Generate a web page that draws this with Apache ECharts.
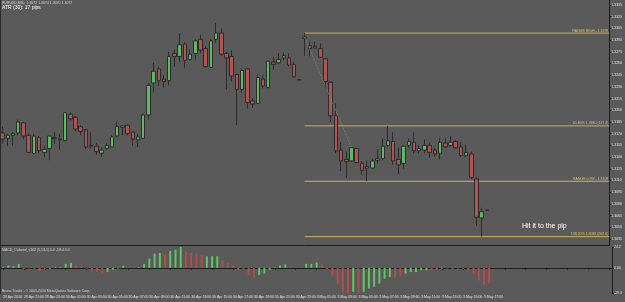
<!DOCTYPE html>
<html>
<head>
<meta charset="utf-8">
<script src="https://cdn.jsdelivr.net/npm/echarts@6/dist/echarts.min.js"></script>
<style>
html, body { margin: 0; padding: 0; background: #5a5a5a; }
#chart { width: 625px; height: 302px; }
</style>
</head>
<body>
<div id="chart"></div>
<script>
// EURUSD M30, 29 Apr - 3 May 2010. candles: [open, close, low, high]
var candles = [
  [1.3171, 1.3163, 1.3157, 1.3179], [1.3164, 1.3168, 1.3154, 1.3170], [1.3168, 1.3170, 1.3155, 1.3172],
  [1.3171, 1.3185, 1.3168, 1.3188], [1.3184, 1.3167, 1.3163, 1.3185], [1.3168, 1.3146, 1.3145, 1.3170],
  [1.3145, 1.3167, 1.3144, 1.3170], [1.3165, 1.3148, 1.3145, 1.3167], [1.3146, 1.3150, 1.3140, 1.3154],
  [1.3151, 1.3167, 1.3136, 1.3168], [1.3165, 1.3164, 1.3157, 1.3172], [1.3162, 1.3163, 1.3149, 1.3170],
  [1.3161, 1.3197, 1.3160, 1.3198], [1.3195, 1.3189, 1.3187, 1.3197], [1.3191, 1.3176, 1.3173, 1.3193],
  [1.3179, 1.3173, 1.3168, 1.3181], [1.3175, 1.3153, 1.3150, 1.3176], [1.3154, 1.3155, 1.3151, 1.3172],
  [1.3154, 1.3147, 1.3143, 1.3158], [1.3145, 1.3149, 1.3140, 1.3153], [1.3151, 1.3155, 1.3149, 1.3158],
  [1.3153, 1.3166, 1.3152, 1.3168], [1.3167, 1.3179, 1.3165, 1.3185], [1.3178, 1.3180, 1.3168, 1.3181],
  [1.3181, 1.3170, 1.3168, 1.3182], [1.3172, 1.3163, 1.3155, 1.3173], [1.3162, 1.3166, 1.3153, 1.3170],
  [1.3164, 1.3194, 1.3163, 1.3196], [1.3194, 1.3232, 1.3188, 1.3235], [1.3235, 1.3250, 1.3223, 1.3261],
  [1.3253, 1.3238, 1.3231, 1.3256], [1.3240, 1.3237, 1.3229, 1.3245], [1.3238, 1.3269, 1.3232, 1.3275],
  [1.3273, 1.3269, 1.3256, 1.3277], [1.3269, 1.3284, 1.3262, 1.3299], [1.3285, 1.3264, 1.3254, 1.3287],
  [1.3265, 1.3272, 1.3264, 1.3278], [1.3273, 1.3289, 1.3265, 1.3291], [1.3291, 1.3277, 1.3273, 1.3297],
  [1.3279, 1.3256, 1.3255, 1.3282], [1.3255, 1.3289, 1.3254, 1.3291], [1.3291, 1.3299, 1.3287, 1.3312],
  [1.3299, 1.3272, 1.3270, 1.3305], [1.3273, 1.3267, 1.3227, 1.3275], [1.3269, 1.3244, 1.3237, 1.3277],
  [1.3246, 1.3227, 1.3181, 1.3247], [1.3227, 1.3251, 1.3222, 1.3253], [1.3253, 1.3210, 1.3202, 1.3254],
  [1.3212, 1.3208, 1.3203, 1.3215], [1.3209, 1.3242, 1.3208, 1.3246], [1.3240, 1.3231, 1.3228, 1.3245],
  [1.3229, 1.3263, 1.3228, 1.3264], [1.3262, 1.3259, 1.3252, 1.3268], [1.3261, 1.3265, 1.3259, 1.3273],
  [1.3267, 1.3270, 1.3264, 1.3274], [1.3267, 1.3258, 1.3256, 1.3273], [1.3259, 1.3243, 1.3242, 1.3262],
  [1.3239, 1.3239, 1.3239, 1.3239], [1.3292, 1.3294, 1.3270, 1.3299], [1.3283, 1.3279, 1.3269, 1.3288],
  [1.3280, 1.3282, 1.3279, 1.3288], [1.3279, 1.3268, 1.3267, 1.3286], [1.3266, 1.3237, 1.3228, 1.3267],
  [1.3236, 1.3193, 1.3185, 1.3237], [1.3193, 1.3148, 1.3145, 1.3209], [1.3149, 1.3135, 1.3122, 1.3159],
  [1.3137, 1.3134, 1.3114, 1.3147], [1.3135, 1.3152, 1.3134, 1.3153], [1.3151, 1.3133, 1.3132, 1.3152],
  [1.3132, 1.3123, 1.3117, 1.3135], [1.3126, 1.3128, 1.3109, 1.3136], [1.3126, 1.3135, 1.3125, 1.3138],
  [1.3136, 1.3138, 1.3132, 1.3150], [1.3138, 1.3154, 1.3136, 1.3164], [1.3155, 1.3161, 1.3153, 1.3180],
  [1.3160, 1.3135, 1.3130, 1.3172], [1.3137, 1.3130, 1.3118, 1.3152], [1.3132, 1.3154, 1.3125, 1.3155],
  [1.3155, 1.3160, 1.3152, 1.3164], [1.3159, 1.3148, 1.3145, 1.3172], [1.3148, 1.3151, 1.3145, 1.3155],
  [1.3149, 1.3155, 1.3145, 1.3163], [1.3155, 1.3146, 1.3139, 1.3159], [1.3149, 1.3144, 1.3140, 1.3152],
  [1.3145, 1.3159, 1.3137, 1.3164], [1.3158, 1.3153, 1.3152, 1.3164], [1.3155, 1.3159, 1.3153, 1.3167],
  [1.3160, 1.3152, 1.3151, 1.3162], [1.3153, 1.3142, 1.3140, 1.3159], [1.3142, 1.3146, 1.3140, 1.3156],
  [1.3144, 1.3114, 1.3112, 1.3147], [1.3112, 1.3063, 1.3052, 1.3114], [1.3062, 1.3070, 1.3038, 1.3075],
  [1.3072, 1.3072, 1.3072, 1.3072]
];

// MACD_Colored (5,13,1) histogram, one value per bar, and its colour (g = up, r = down)
var macd = [
  0.8, 2.7, 2.0, 4.6, -1.5, -0.8, -0.8, -3.8, -1.5, -1.0,
  0.8, 0.8, 4.6, 5.8, 3.5, 1.5, -0.8, -3.5, -4.6, -6.5,
  -4.6, -2.3, -0.8, 2.3, 0.8, 0.8, 0.8, 4.4, 10.8, 16.5,
  17.3, 15.8, 19.6, 21.2, 24.2, 18.5, 17.3, 16.5, 14.6, 13.5,
  13.5, 13.5, 8.8, 5.8, 2.7, -2.5, -0.8, -8.3, -11.5, -8.3,
  -6.5, -2.3, 0.8, 2.7, 3.8, 0.8, 0.8, 1.0, 4.6, 4.6,
  6.2, 3.5, -1.5, -8.8, -18.5, -28.0, -29.3, -28.0, -29.0, -28.0,
  -24.0, -22.0, -18.5, -12.7, -10.8, -11.2, -9.0, -6.9, -5.0, -5.0,
  -3.0, -3.0, -3.0, -2.3, -0.8, -0.8, -0.8, -0.8, -1.0, -3.0,
  -7.0, -14.6, -19.5, -18.4
];
var macdDir = [
  'g', 'g', 'g', 'g', 'r', 'r', 'g', 'r', 'r', 'g',
  'g', 'g', 'g', 'g', 'r', 'r', 'r', 'r', 'r', 'r',
  'g', 'g', 'g', 'g', 'r', 'r', 'g', 'g', 'g', 'g',
  'g', 'r', 'g', 'g', 'g', 'r', 'r', 'r', 'r', 'g',
  'g', 'g', 'r', 'r', 'r', 'r', 'g', 'r', 'r', 'g',
  'g', 'g', 'g', 'g', 'g', 'r', 'r', 'r', 'g', 'g',
  'g', 'r', 'r', 'r', 'r', 'r', 'r', 'g', 'r', 'g',
  'g', 'g', 'g', 'g', 'g', 'r', 'r', 'g', 'g', 'g',
  'g', 'g', 'r', 'r', 'g', 'r', 'g', 'r', 'r', 'r',
  'r', 'r', 'r', 'r'
];

// time axis labels, one every 4 bars
var timeLabels = [
  '29 Apr 2010', '29 Apr 21:00', '29 Apr 23:00', '30 Apr 01:00', '30 Apr 03:00', '30 Apr 05:00',
  '30 Apr 07:00', '30 Apr 09:00', '30 Apr 11:00', '30 Apr 13:00', '30 Apr 15:00', '30 Apr 17:00',
  '30 Apr 19:00', '30 Apr 21:00', '30 Apr 23:00', '3 May 01:00', '3 May 03:00', '3 May 05:00',
  '3 May 07:00', '3 May 09:00', '3 May 11:00', '3 May 13:00', '3 May 15:00', '3 May 17:00'
];
var priceTicks = [
  1.3035, 1.3050, 1.3065, 1.3080, 1.3095, 1.3110, 1.3125, 1.3140, 1.3155, 1.3170, 1.3185,
  1.3200, 1.3215, 1.3230, 1.3245, 1.3260, 1.3275, 1.3290, 1.3305, 1.3320, 1.3335
];
var macdTicks = [24.2, 0, -29.3];

// fibonacci tool drawn from the 3 May high
var levelStart = 58;
var levelPrices = [1.3299, 1.3180, 1.3109, 1.3038];
var levelNames = ['RANGE HIGH - 1.3299', '61.80% 1.3180 (117.4)', 'RANGE LOW - 1.3109', '138.20% 1.3038 (262.6)'];
var fibAnchor = [[58, 1.3294], [67, 1.3152]];

var slots = 117; // bars plus the empty space on the right
var cats = [];
for (var i = 0; i < slots; i++) cats.push(String(i));

var green = '#62b862', red = '#b15353', wick = '#2c2c2c', axisCol = '#1c1c1c', txt = '#e4e4e4';
var font = 'Liberation Sans';
var lastClose = candles[candles.length - 1][1];

var macdData = macd.map(function (v, k) {
  return { value: v, itemStyle: { color: macdDir[k] === 'g' ? '#63c463' : '#b84b4b' } };
});
var levelData = levelPrices.map(function (p) { return [levelStart, p]; });

var chart = echarts.init(document.getElementById('chart'), null, { renderer: 'canvas' });
chart.setOption({
  backgroundColor: '#5a5a5a',
  animation: false,
  textStyle: { fontFamily: font },
  grid: [
    { left: -1.4, width: 613.4, top: 0, height: 245 },
    { left: -1.4, width: 613.4, top: 247, height: 46 }
  ],
  xAxis: [
    {
      type: 'category', gridIndex: 0, data: cats, boundaryGap: true,
      axisLine: { show: true, lineStyle: { color: axisCol, width: 1 } },
      axisTick: { show: false }, axisLabel: { show: false }, splitLine: { show: false }
    },
    {
      type: 'category', gridIndex: 1, data: cats, boundaryGap: true,
      axisLine: { show: true, lineStyle: { color: axisCol, width: 1 } },
      axisTick: { show: true, interval: 3, alignWithLabel: true, length: 2, lineStyle: { color: axisCol } },
      axisLabel: {
        interval: 3, fontSize: 3.5, color: txt, align: 'left', margin: 2, fontFamily: font,
        formatter: function (v, idx) { return timeLabels[idx / 4] || ''; }
      },
      splitLine: { show: false }
    }
  ],
  yAxis: [
    {
      type: 'value', gridIndex: 0, position: 'right', scale: true,
      min: 1.30273, max: 1.33414,
      axisLine: { show: true, lineStyle: { color: axisCol, width: 1 } },
      axisTick: { show: true, length: 2, customValues: priceTicks, lineStyle: { color: axisCol } },
      axisLabel: {
        customValues: priceTicks, fontSize: 3.5, color: txt, margin: 2, fontFamily: font,
        formatter: function (v) { return v.toFixed(4); }
      },
      splitLine: { show: false }
    },
    {
      type: 'value', gridIndex: 1, position: 'right',
      min: -29.3, max: 24.2,
      axisLine: { show: true, lineStyle: { color: axisCol, width: 1 } },
      axisTick: { show: true, length: 2, customValues: macdTicks, lineStyle: { color: axisCol } },
      axisLabel: {
        customValues: macdTicks, fontSize: 3.5, color: txt, margin: 2, fontFamily: font,
        formatter: function (v) { return v === 0 ? '0.00' : v.toFixed(1); }
      },
      splitLine: { show: false }
    }
  ],
  series: [
    {
      type: 'candlestick', xAxisIndex: 0, yAxisIndex: 0,
      data: candles, barWidth: 4,
      itemStyle: {
        color: green, color0: red,
        borderColor: wick, borderColor0: wick, borderColorDoji: wick, borderWidth: 1
      },
      markLine: {
        silent: true, symbol: 'none',
        data: [
          [
            { coord: fibAnchor[0], lineStyle: { color: '#8c8c8c', type: 'dotted', width: 0.8 }, label: { show: false } },
            { coord: fibAnchor[1] }
          ],
          {
            yAxis: lastClose,
            lineStyle: { opacity: 0 },
            label: {
              show: true, position: 'end', distance: 2, formatter: lastClose.toFixed(4),
              backgroundColor: '#000', color: '#fff', fontSize: 3.5, padding: [1, 1], fontFamily: font
            }
          }
        ]
      }
    },
    {
      type: 'custom', xAxisIndex: 0, yAxisIndex: 0, data: levelData, clip: false, silent: true,
      renderItem: function (params, api) {
        var p = api.coord([api.value(0), api.value(1)]);
        var right = params.coordSys.x + params.coordSys.width;
        return {
          type: 'group',
          children: [
            { type: 'line', shape: { x1: p[0], y1: p[1], x2: right, y2: p[1] }, style: { stroke: '#c9b45a', lineWidth: 1 } },
            {
              type: 'text',
              style: {
                text: levelNames[params.dataIndex], x: right - 1, y: p[1] - 0.5,
                align: 'right', verticalAlign: 'bottom', fill: '#d9c66a', font: '3.5px ' + font
              }
            }
          ]
        };
      }
    },
    {
      type: 'bar', xAxisIndex: 1, yAxisIndex: 1, data: macdData, barWidth: 2
    }
  ],
  graphic: [
    { type: 'rect', shape: { x: 0, y: 0, width: 1, height: 294 }, style: { fill: '#2a2a2a' }, silent: true },
    { type: 'text', x: 2, y: 1, style: { text: 'EURUSD,M30  1.3072 1.3074 1.3070 1.3072', fill: '#d8d8d8', font: '3.5px ' + font } },
    { type: 'text', x: 2, y: 5, style: { text: 'ATR (30): 17 pips', fill: '#ffffff', font: '5px ' + font } },
    { type: 'text', x: 2, y: 248, style: { text: 'MACD_Colored_v102 (5,13,1) 0.0 -18.4 0.0', fill: '#d8d8d8', font: '3.5px ' + font } },
    { type: 'text', x: 2, y: 289, style: { text: 'Bruno Trader - \u00a9 2001-2010 MetaQuotes Software Corp.', fill: '#d8d8d8', font: '3.5px ' + font } },
    { type: 'text', x: 522, y: 223, style: { text: 'Hit it to the pip', fill: '#ffffff', font: '7px ' + font } }
  ]
});
</script>
</body>
</html>
